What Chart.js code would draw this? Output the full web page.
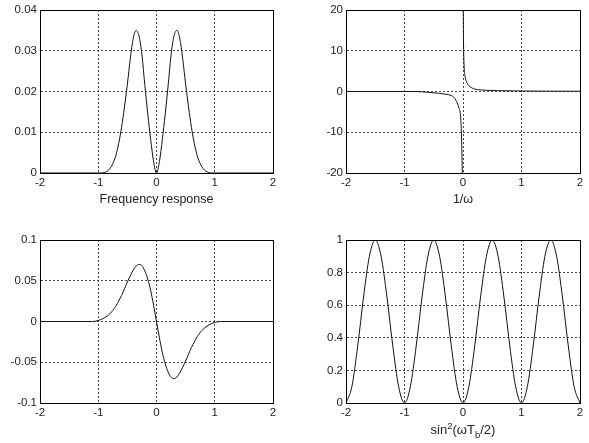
<!DOCTYPE html>
<html>
<head>
<meta charset="utf-8">
<script src="https://cdn.jsdelivr.net/npm/chart.js@4.4.0/dist/chart.umd.min.js"></script>
<style>
  body { margin: 0; background: #fff; width: 589px; height: 443px; position: relative; overflow: hidden; }
  canvas { position: absolute; }
</style>
</head>
<body>
<canvas id="freqChart" width="290" height="222" style="left:0;top:0"></canvas>
<canvas id="invChart" width="294" height="222" style="left:295px;top:0"></canvas>
<canvas id="derivChart" width="290" height="218" style="left:0;top:225px"></canvas>
<canvas id="sinChart" width="294" height="218" style="left:295px;top:225px"></canvas>
<script>
// x positions shared by the two pulse-shaped plots (left column)
const pulseX = [-2, -1.1, -1, -0.95, -0.9, -0.85, -0.8, -0.75, -0.7, -0.65, -0.6, -0.55, -0.5, -0.45, -0.4,
  -0.35, -0.3, -0.25, -0.2, -0.15, -0.1, -0.05, 0, 0.05, 0.1, 0.15, 0.2, 0.25, 0.3, 0.35, 0.4, 0.45, 0.5,
  0.55, 0.6, 0.65, 0.7, 0.75, 0.8, 0.85, 0.9, 0.95, 1, 1.1, 2];

// top left: Frequency response
const freqResp = [0, 0, 0, 0, 0.0001, 0.0004, 0.0011, 0.0023, 0.0042, 0.0072, 0.0112, 0.0162, 0.0218, 0.028, 0.033,
  0.035, 0.0336, 0.029, 0.0215, 0.0145, 0.0082, 0.0028, 0, 0.0028, 0.0082, 0.0145, 0.0215, 0.029, 0.0336,
  0.035, 0.033, 0.028, 0.0218, 0.0162, 0.0112, 0.0072, 0.0042, 0.0023, 0.0011, 0.0004, 0.0001, 0, 0, 0, 0];
const freqTicks = [0, 0.01, 0.02, 0.03, 0.04];

// bottom left
const derivResp = [0, 0, 0.0012, 0.0025, 0.0042, 0.0065, 0.0095, 0.0135, 0.0185, 0.025, 0.032, 0.04, 0.0485, 0.056, 0.063,
  0.068, 0.07, 0.0685, 0.062, 0.052, 0.038, 0.02, 0, -0.02, -0.038, -0.052, -0.062, -0.0685, -0.07,
  -0.068, -0.063, -0.056, -0.0485, -0.04, -0.032, -0.025, -0.0185, -0.0135, -0.0095, -0.0065, -0.0042, -0.0025, -0.0012, 0, 0];
const derivTicks = [-0.1, -0.05, 0, 0.05, 0.1];

// top right: 1/ω (gap at zero)
const invX = [-2, -0.8, -0.6, -0.4, -0.3, -0.2, -0.15, -0.1, -0.07, -0.05, -0.04, -0.03, -0.02, -0.012, 0,
  0.004, 0.01, 0.02, 0.03, 0.05, 0.08, 0.1, 0.15, 0.2, 0.3, 0.4, 0.6, 1, 1.5, 2];
const invY = [0, 0, -0.2, -0.45, -0.65, -1, -1.5, -2.8, -4, -5, -6.2, -9, -14, -20, null,
  20, 11, 6, 4.2, 2.8, 1.8, 1.4, 0.9, 0.6, 0.4, 0.3, 0.2, 0.12, 0.08, 0.06];
const invTicks = [-20, -10, 0, 10, 20];

// bottom right: sin^2
const sinX = [-2, -1.9, -1.8, -1.7, -1.6, -1.5, -1.4, -1.3, -1.2, -1.1, -1, -0.9, -0.8, -0.7, -0.6, -0.5, -0.4,
  -0.3, -0.2, -0.1, 0, 0.1, 0.2, 0.3, 0.4, 0.5, 0.6, 0.7, 0.8, 0.9, 1, 1.1, 1.2, 1.3, 1.4, 1.5, 1.6, 1.7,
  1.8, 1.9, 2];
const sinY = [0, 0.1, 0.35, 0.65, 0.9, 1, 0.9, 0.65, 0.35, 0.1, 0, 0.1, 0.35, 0.65, 0.9, 1, 0.9,
  0.65, 0.35, 0.1, 0, 0.1, 0.35, 0.65, 0.9, 1, 0.9, 0.65, 0.35, 0.1, 0, 0.1, 0.35, 0.65, 0.9, 1, 0.9, 0.65,
  0.35, 0.1, 0];
const sinTicks = [0, 0.2, 0.4, 0.6, 0.8, 1];

const xTicks = [-2, -1, 0, 1, 2];

Chart.defaults.font.family = '"Liberation Sans", Arial, sans-serif';
Chart.defaults.font.size = 11.5;
Chart.defaults.color = '#222';

// MATLAB style box around the axes
const boxPlugin = {
  id: 'box',
  afterDatasetsDraw(chart) {
    const a = chart.chartArea;
    const ctx = chart.ctx;
    ctx.save();
    ctx.strokeStyle = '#000';
    ctx.lineWidth = 1;
    ctx.strokeRect(Math.round(a.left) + 0.5, Math.round(a.top) + 0.5,
      Math.round(a.right - a.left), Math.round(a.bottom - a.top));
    ctx.restore();
  }
};

// x label with superscript / subscript: sin²(ωT_b/2)
const sinTitle = {
  id: 'sinTitle',
  afterDraw(chart) {
    const ctx = chart.ctx;
    const a = chart.chartArea;
    const parts = [['sin', 13, 0], ['2', 9.5, -5], ['(ωT', 13, 0], ['b', 9.5, 4], ['/2)', 13, 0]];
    const fam = '"Liberation Sans", Arial, sans-serif';
    ctx.save();
    let total = 0;
    parts.forEach(p => { ctx.font = p[1] + 'px ' + fam; total += ctx.measureText(p[0]).width; });
    let x = (a.left + a.right) / 2 - total / 2;
    const base = a.bottom + 31;
    ctx.fillStyle = '#222';
    ctx.textBaseline = 'alphabetic';
    ctx.textAlign = 'left';
    parts.forEach(p => {
      ctx.font = p[1] + 'px ' + fam;
      ctx.fillText(p[0], x, base + p[2]);
      x += ctx.measureText(p[0]).width;
    });
    ctx.restore();
  }
};

function plot(id, xs, ys, yTicks, cfg) {
  const pts = xs.map((x, i) => ({ x: x, y: ys[i] }));
  const grid = { color: '#444', lineWidth: 1, drawTicks: false };
  const border = { display: true, color: '#000', dash: [2, 2] };
  return new Chart(document.getElementById(id), {
    type: 'line',
    data: {
      datasets: [{
        data: pts,
        borderColor: '#111',
        borderWidth: 1,
        pointRadius: 0,
        cubicInterpolationMode: 'monotone',
        spanGaps: false
      }]
    },
    options: {
      responsive: false,
      animation: false,
      layout: { padding: cfg.pad },
      plugins: { legend: { display: false }, tooltip: { enabled: false } },
      scales: {
        x: {
          type: 'linear', min: -2, max: 2,
          afterBuildTicks: s => { s.ticks = xTicks.map(v => ({ value: v })); },
          afterFit: s => { s.height = cfg.xh; },
          grid: grid, border: border,
          ticks: { padding: 3, maxRotation: 0, autoSkip: false, callback: v => String(v) },
          title: cfg.title
            ? { display: true, text: cfg.title, font: { size: 12.5 }, padding: 0, color: '#222' }
            : { display: false }
        },
        y: {
          type: 'linear', min: yTicks[0], max: yTicks[yTicks.length - 1],
          afterBuildTicks: s => { s.ticks = yTicks.map(v => ({ value: v })); },
          afterFit: s => { s.width = cfg.yw; },
          grid: grid, border: border,
          ticks: { padding: 3, autoSkip: false, callback: v => String(v) }
        }
      }
    },
    plugins: [boxPlugin].concat(cfg.extra || [])
  });
}

plot('freqChart', pulseX, freqResp, freqTicks,
  { pad: { left: 0, right: 17, top: 10, bottom: 15 }, xh: 34, yw: 40, title: 'Frequency response' });
plot('invChart', invX, invY, invTicks,
  { pad: { left: 0, right: 9, top: 10, bottom: 15 }, xh: 34, yw: 51, title: '1/ω' });
plot('derivChart', pulseX, derivResp, derivTicks,
  { pad: { left: 0, right: 17, top: 15, bottom: 10 }, xh: 30, yw: 40 });
plot('sinChart', sinX, sinY, sinTicks,
  { pad: { left: 0, right: 9, top: 15, bottom: 10 }, xh: 30, yw: 51, extra: [sinTitle] });
</script>
</body>
</html>
